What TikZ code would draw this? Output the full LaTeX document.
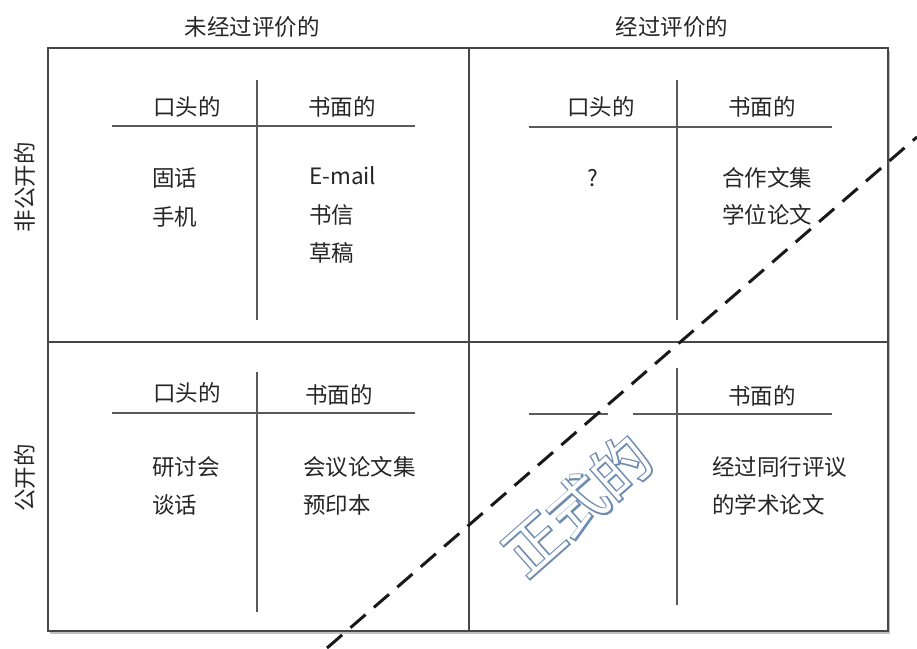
\documentclass[tikz,border=0pt]{standalone}
\usepackage{fontspec}
\setmainfont{Noto Sans CJK SC}
\newfontfamily\cjkfat[FakeBold=5]{Noto Sans CJK SC}
\usetikzlibrary{shadows}
\definecolor{linegray}{RGB}{70,70,70}
\definecolor{outlineblue}{RGB}{110,140,175}
\tikzset{
  frame/.style={draw=linegray, line width=1.8pt},
  rule/.style={draw=linegray!90, line width=1.5pt},
  lbl/.style={font=\fontsize{22.5}{26}\selectfont, inner sep=0pt, text=black!85},
  item/.style={lbl, anchor=west},
  dashline/.style={draw=black!90, line width=3pt, dash pattern=on 20pt off 11pt},
}
\begin{document}
\begin{tikzpicture}[x=1pt,y=-1pt]
\useasboundingbox (0,0) rectangle (917,648);
\fill[white] (0,0) rectangle (917,648);
% outer frame with shadow
\draw[frame, fill=white, drop shadow={opacity=0.5, shadow xshift=2pt, shadow yshift=-3pt}] (48,48) rectangle (888,631);
\draw[frame] (469,48) -- (469,631);
\draw[frame] (48,342) -- (888,342);
% axis labels
\node[lbl] (top1) at (252,27) {未经过评价的};
\node[lbl] (top2) at (672,27) {经过评价的};
\node[lbl, rotate=90] (side1) at (25,187) {非公开的};
\node[lbl, rotate=90] (side2) at (25,478) {公开的};
% quadrant TL
\draw[rule] (257,80) -- (257,320);
\draw[rule] (112,126) -- (415,126);
\node[lbl] (tlh1) at (187,107) {口头的};
\node[lbl] (tlh2) at (342,107) {书面的};
\node[item] (tl1) at (152,178) {固话};
\node[item] (tl2) at (152,217) {手机};
\node[item] (tl3) at (309,176) {E-mail};
\node[item] (tl4) at (309,215) {书信};
\node[item] (tl5) at (309,253) {草稿};
% quadrant TR
\draw[rule] (677,80) -- (677,320);
\draw[rule] (529,127) -- (832,127);
\node[lbl] (trh1) at (601,107) {口头的};
\node[lbl] (trh2) at (762,107) {书面的};
\node[lbl] (tr1) at (593,178) {?};
\node[item] (tr2) at (722,178) {合作文集};
\node[item] (tr3) at (722,215) {学位论文};
% quadrant BL
\draw[rule] (257,372) -- (257,612);
\draw[rule] (112,413) -- (415,413);
\node[lbl] (blh1) at (187,393) {口头的};
\node[lbl] (blh2) at (339,395) {书面的};
\node[item] (bl1) at (152,467) {研讨会};
\node[item] (bl2) at (152,505) {谈话};
\node[item] (bl3) at (303,467) {会议论文集};
\node[item] (bl4) at (303,505) {预印本};
% quadrant BR
\draw[rule] (677,368) -- (677,605);
\draw[rule] (529,414) -- (608,414);
\draw[rule] (633,414) -- (832,414);
\node[lbl] (brh2) at (762,396) {书面的};
\node[item] (br1) at (712,467) {经过同行评议};
\node[item] (br2) at (712,505) {的学术论文};
% formal boundary
\coordinate (dA) at (327,648);
\coordinate (dB) at (917,137);
\draw[dashline] (dA) -- (dB);
% hollow label
\node[inner sep=0pt, rotate=41.5, text=outlineblue, font=\fontsize{58}{58}\cjkfat] (formalo) at (577,505) {正式的};
\node[inner sep=0pt, rotate=41.5, text=white, font=\fontsize{58}{58}\selectfont] (formal) at (577,505) {正式的};
\end{tikzpicture}
\end{document}
